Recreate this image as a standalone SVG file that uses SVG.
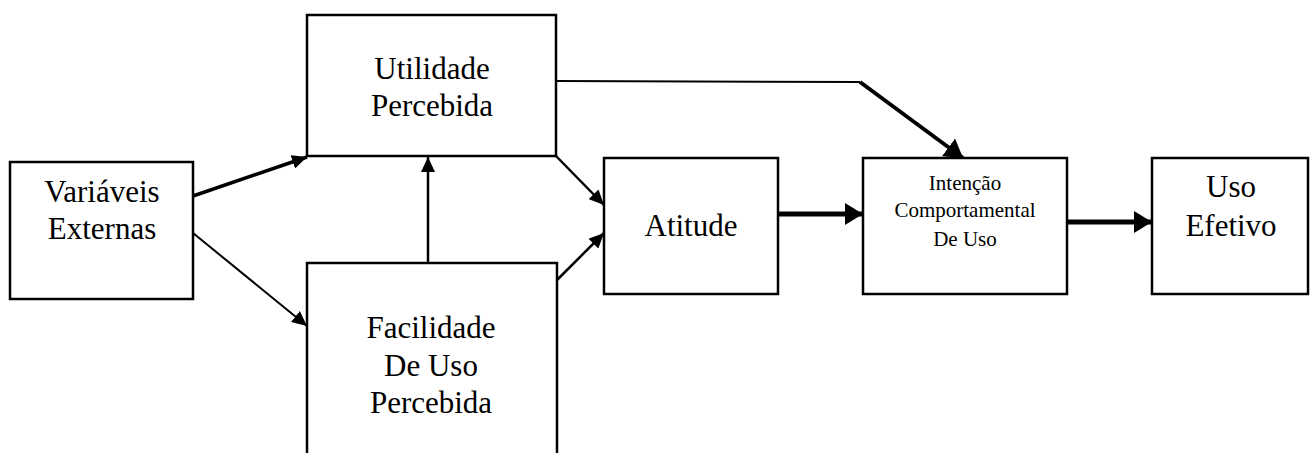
<svg xmlns="http://www.w3.org/2000/svg" width="1310" height="453" viewBox="0 0 1310 453">
<style>
.box{fill:#fff;stroke:#000;stroke-width:2.5}
.t{font-family:"Liberation Serif","Times New Roman",serif;font-size:31px;fill:#000;text-anchor:middle}
.s{font-family:"Liberation Serif","Times New Roman",serif;font-size:21px;fill:#000;text-anchor:middle}
.c{fill:none;stroke:#000}
</style>
<defs>
<marker id="ah" markerUnits="userSpaceOnUse" markerWidth="16" markerHeight="14" refX="15" refY="7" orient="auto"><path d="M0,0 L15,7 L0,14 Z" fill="#000"/></marker>
<marker id="ahb" markerUnits="userSpaceOnUse" markerWidth="19" markerHeight="22" refX="18" refY="11" orient="auto"><path d="M0,0 L18,11 L0,22 Z" fill="#000"/></marker>
</defs>
<g id="connectors">
<line class="c" x1="193" y1="196" x2="307" y2="157" stroke-width="3.5" marker-end="url(#ah)"/>
<line class="c" x1="193" y1="233" x2="307" y2="326" stroke-width="2" marker-end="url(#ah)"/>
<line class="c" x1="428" y1="263" x2="428" y2="157" stroke-width="2.5" marker-end="url(#ah)"/>
<line class="c" x1="556" y1="156" x2="604" y2="205" stroke-width="2.5" marker-end="url(#ah)"/>
<line class="c" x1="557" y1="280" x2="604" y2="233" stroke-width="2.5" marker-end="url(#ah)"/>
<line class="c" x1="778" y1="214" x2="863" y2="214" stroke-width="5" marker-end="url(#ahb)"/>
<polyline class="c" points="556,81 860,82" stroke-width="2"/>
<line class="c" x1="860" y1="82" x2="963" y2="158" stroke-width="4" marker-end="url(#ahb)"/>
<line class="c" x1="1067" y1="222" x2="1152" y2="222" stroke-width="5" marker-end="url(#ahb)"/>
</g>
<g id="variaveis">
<rect class="box" x="10" y="162" width="183" height="137"/>
<text class="t" x="102" y="202">Variáveis</text>
<text class="t" x="102" y="239">Externas</text>
</g>
<g id="utilidade">
<rect class="box" x="307" y="15" width="249" height="141"/>
<text class="t" x="432" y="79">Utilidade</text>
<text class="t" x="432" y="116">Percebida</text>
</g>
<g id="facilidade">
<rect class="box" x="307" y="263" width="250" height="200"/>
<text class="t" x="431" y="338">Facilidade</text>
<text class="t" x="431" y="376">De Uso</text>
<text class="t" x="431" y="413">Percebida</text>
</g>
<g id="atitude">
<rect class="box" x="604" y="158" width="174" height="136"/>
<text class="t" x="691" y="236">Atitude</text>
</g>
<g id="intencao">
<rect class="box" x="863" y="158" width="204" height="136"/>
<text class="s" x="965" y="190">Intenção</text>
<text class="s" x="965" y="217">Comportamental</text>
<text class="s" x="965" y="246">De Uso</text>
</g>
<g id="uso">
<rect class="box" x="1152" y="158" width="156" height="136"/>
<text class="t" x="1231" y="197">Uso</text>
<text class="t" x="1231" y="236">Efetivo</text>
</g>
</svg>
